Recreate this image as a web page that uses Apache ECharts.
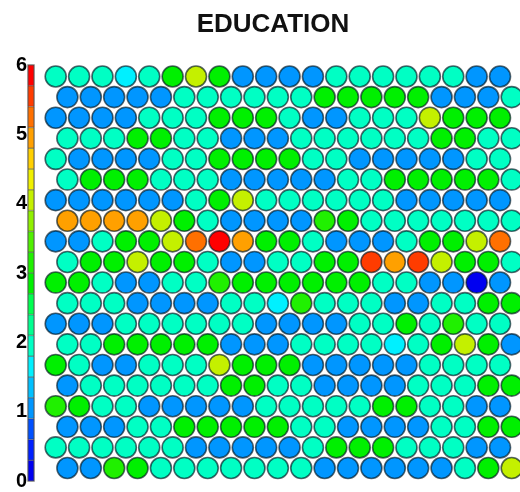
<!DOCTYPE html>
<html><head><meta charset="utf-8">
<style>html,body{margin:0;padding:0;background:#fff}#c{width:520px;height:492px}</style>
<script src="https://cdn.jsdelivr.net/npm/echarts@6/dist/echarts.min.js"></script>
</head><body><div id="c"></div>
<script>
const title = 'EDUCATION';
const colorTicks = [0,1,2,3,4,5,6];
const levelStep = 0.3;
const levelColors = ['#0000f0','#0020ff','#0050ff','#0096ff','#00c0ff','#00f0ff','#00ffc4','#00ff90','#00ff50','#00f000','#20f000','#50f000','#90f000','#c4f000','#f0f000','#ffd000','#ffa000','#ff7000','#ff3c00','#ff0000'];
const row00=[2,2,2,1.7,2,2.9,4,2.9,1,1,1,1,2,2,2,2,2,2,1,1];
const row01=[1,1,1,1,1,2,2,2,2,2,2,2.9,2.9,2.9,2.9,2.9,1,1,1,2];
const row02=[1,1,1,1,2,2,2,2.9,2.9,2.9,2,1,1,2,2,2,4,2.9,2.9,2.9];
const row03=[2,2,2,2.9,2.9,2,2,1,1,1,2,2,2,2,2,2,2.9,2.9,2,2];
const row04=[2,1,1,1,1,2,2,2.9,2.9,2.9,2.9,2,2,1,1,1,1,1,2,2];
const row05=[2,2.9,2.9,2.9,2,2,2,1,1,1,1,1,2,2,2.9,2.9,2.9,2.9,2.9,2];
const row06=[1,1,1,1,1,1,2,2.9,4,2,2,2,2,2,2,1,1,1,1,1];
const row07=[5,5,5,5,4,2.9,2,1,1,1,1,3.1,2.9,2,2,2,2,2,2,2];
const row08=[1,1,2,2.9,2.9,4,5.3,5.9,5,2.9,2.9,2,1,1,1,2,2.9,2.9,4,5.3];
const row09=[2,2.9,2.9,4,2.9,2.9,2,1,1,2,2,2.9,2.9,5.5,5,5.5,4,2.9,2.9,2];
const row10=[2.9,2.9,2,1,1,2,2,3.1,2.9,2.9,2.9,2.9,2.9,2.9,2,2,1,1,0.1,1];
const row11=[2,2,2,1,1,1,1,2,2,1.7,3.1,2,2,2,1,1,2,2,2.9,2.9];
const row12=[1,1,1,2,2,2,2,2,2,1,1,1,1,2,2,2.9,2,3.1,2,2];
const row13=[2,2,2.9,2.9,2.9,2.9,2.9,1,1,1,2,2,2,2,1.7,2,2.9,4,2.9,1];
const row14=[2.9,2,1,1,2,2,2,4,2.9,2.9,2.9,1,1,1,1,1,2,2,2,2];
const row15=[1,2,2,2,2,2,2,2.9,2.9,2,2,1,1,1,1,2,2,2,2.9,2.9];
const row16=[3.1,2.9,2,2,1,1,1,1,1,2,2,2,2,2,2.9,2.9,2,2,1,1];
const row17=[1,1,1,2,2,2.9,2.9,2.9,2.9,2.9,2,2,1,1,1,1,2,2,2.9,2.9];
const row18=[2,2,2,2,2,2,1,1,1,1,1,2,2.9,2.9,2.9,2,2,2,1,1];
const row19=[1,1,3.1,2.9,2,2,2,2,2,2,2,1,1,1,1,1,1,2,2.9,4];
const rows=[row00,row01,row02,row03,row04,row05,row06,row07,row08,row09,row10,row11,row12,row13,row14,row15,row16,row17,row18,row19];

const cells=[];
rows.forEach((r,ri)=>r.forEach((v,ci)=>cells.push([ci+(ri%2?0.5:0),ri,v])));
const pieces=levelColors.map((c,i)=>({gte:i*levelStep,lt:(i+1)*levelStep,color:c}));
const barSeries=levelColors.map(c=>({type:'bar',stack:'k',xAxisIndex:1,yAxisIndex:1,barWidth:'100%',
  data:[levelStep],silent:true,itemStyle:{color:c,borderColor:'rgba(0,0,0,0.5)',borderWidth:0.6}}));
const chart=echarts.init(document.getElementById('c'),null,{renderer:'canvas'});
chart.setOption({
  animation:false,backgroundColor:'#fff',
  title:{text:title,left:268,top:7,textAlign:'center',textStyle:{fontFamily:'Liberation Sans',fontWeight:'bold',fontSize:26,color:'#111'}},
  grid:[
    {left:55.7,top:76.5,width:456,height:391.5},
    {left:28,top:65,width:6,height:416,show:true,borderColor:'#888',borderWidth:1.5,backgroundColor:'transparent'}
  ],
  xAxis:[
    {type:'value',gridIndex:0,min:0,max:19.5,show:false},
    {type:'category',gridIndex:1,data:[''],show:false}
  ],
  yAxis:[
    {type:'value',gridIndex:0,min:0,max:19,inverse:true,show:false},
    {type:'value',gridIndex:1,min:0,max:6,interval:1,axisLine:{show:false},axisTick:{show:false},splitLine:{show:false},
     axisLabel:{show:true,margin:1,fontFamily:'Liberation Sans',fontSize:20,color:'#000',fontWeight:'bold',customValues:colorTicks}}
  ],
  visualMap:{show:false,type:'piecewise',seriesIndex:0,dimension:2,pieces:pieces},
  series:[
    {type:'scatter',xAxisIndex:0,yAxisIndex:0,data:cells,symbol:'circle',symbolSize:21,silent:true,
     itemStyle:{opacity:1,borderColor:'rgba(0,20,30,0.65)',borderWidth:1.6}}
  ].concat(barSeries)
});
</script></body></html>
